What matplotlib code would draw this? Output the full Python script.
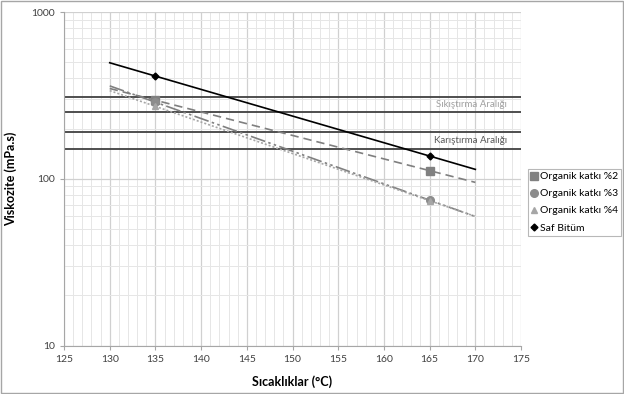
#!/usr/bin/env python3
"""Viskozite - sicaklik grafigi (Excel tarzi, log eksen)."""

import numpy as np
import matplotlib
matplotlib.use("Agg")
import matplotlib.pyplot as plt
from matplotlib.ticker import FixedLocator, NullFormatter, LogLocator

plt.rcParams.update({
    "font.family": ["Lato", "DejaVu Sans"],
    "font.size": 7.5,
})

# ── Data ────────────────────────────────────────────────────────────────
temps = [135, 165]
visc_katki2 = [296, 112]
visc_katki3 = [288, 74.5]
visc_katki4 = [272, 74]
visc_saf = [413, 137]

trend_range = [130, 170]

sikistirma = [250, 310]
karistirma = [150, 190]

series_labels = ["Organik katkı %2", "Organik katkı %3",
                 "Organik katkı %4", "Saf Bitüm"]

# ── Figure ──────────────────────────────────────────────────────────────
fig = plt.figure(figsize=(6.24, 3.94), dpi=100)
ax = fig.add_axes([0.1026, 0.1226, 0.7324, 0.8469])

# outer chart border
fig.patches.append(plt.Rectangle((0.002, 0.003), 0.996, 0.994,
                                 transform=fig.transFigure, fill=False,
                                 edgecolor="#a6a6a6", linewidth=1.0))

ax.set_yscale("log")
ax.set_xlim(125, 175)
ax.set_ylim(10, 1000)

# gridlines
ax.xaxis.set_major_locator(FixedLocator(np.arange(125, 176, 5)))
ax.xaxis.set_minor_locator(FixedLocator(np.arange(125, 176, 1)))
ax.yaxis.set_major_locator(FixedLocator([10, 100, 1000]))
ax.yaxis.set_minor_locator(LogLocator(base=10, subs=np.arange(2, 10)))
ax.yaxis.set_minor_formatter(NullFormatter())
ax.set_yticklabels(["10", "100", "1000"])
ax.grid(which="major", color="#d0d0d0", linewidth=0.9)
ax.grid(which="minor", color="#e6e6e6", linewidth=0.7)
ax.set_axisbelow(True)

for s in ("top", "right"):
    ax.spines[s].set_visible(False)
for s in ("left", "bottom"):
    ax.spines[s].set_color("#a6a6a6")
    ax.spines[s].set_linewidth(0.8)
ax.tick_params(which="major", length=3, color="#a6a6a6", labelcolor="#404040")
ax.tick_params(which="minor", length=0)
ax.tick_params(axis="x", pad=4)

# range lines
for v in sikistirma + karistirma:
    ax.axhline(v, color="#404040", linewidth=1.3, zorder=2)
ax.text(173.5, np.sqrt(sikistirma[0] * sikistirma[1]), "Sıkıştırma Aralığı",
        ha="right", va="center", color="#a0a0a0", fontsize=7)
ax.text(173.5, np.sqrt(karistirma[0] * karistirma[1]), "Karıştırma Aralığı",
        ha="right", va="center", color="#595959", fontsize=7)

# series + exponential trendlines
configs = [
    (visc_katki2, "s", "#808080", 5.5, (0, (5, 3)), "#7f7f7f"),
    (visc_katki3, "o", "#8c8c8c", 5.5, (0, (9, 2, 1.5, 2, 1.5, 2)), "#808080"),
    (visc_katki4, "^", "#a6a6a6", 5, (0, (1.2, 1.2)), "#a6a6a6"),
    (visc_saf, "D", "#000000", 3.5, "-", "#000000"),
]
xs = np.array(trend_range, dtype=float)
for (vals, mk, mc, ms, ls, lc), label in zip(configs, series_labels):
    b, a = np.polyfit(temps, np.log10(vals), 1)
    ax.plot(xs, 10 ** (a + b * xs), color=lc, linestyle=ls,
            linewidth=1.2, zorder=3)
    ax.plot(temps, vals, linestyle="none", marker=mk, color=mc,
            markersize=ms, zorder=4, label=label)

ax.set_xlabel("Sıcaklıklar (°C)", fontsize=9, fontweight="bold", labelpad=8)
ax.set_ylabel("Viskozite (mPa.s)", fontsize=9, fontweight="bold", labelpad=10)

leg = ax.legend(loc="center left", bbox_to_anchor=(1.003, 0.43),
                frameon=True, fancybox=False, fontsize=7.5,
                handlelength=0.6, handletextpad=0.25, labelspacing=0.75,
                borderpad=0.3, borderaxespad=0.5)
leg.get_frame().set_edgecolor("#a6a6a6")
leg.get_frame().set_linewidth(0.8)

fig.savefig("out.png", dpi=100)
